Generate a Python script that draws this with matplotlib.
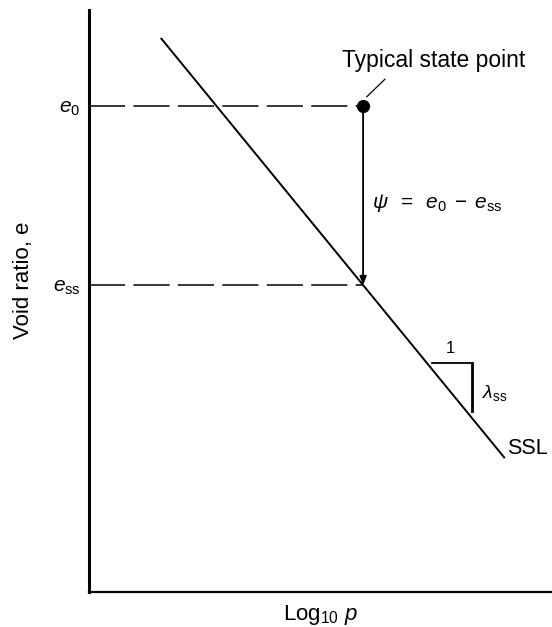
import matplotlib
matplotlib.use('Agg')
import matplotlib.pyplot as plt
import numpy as np

plt.rcParams['font.family'] = ['Liberation Sans', 'DejaVu Sans']
plt.rcParams['mathtext.fontset'] = 'custom'
plt.rcParams['mathtext.rm'] = 'Liberation Sans'
plt.rcParams['mathtext.it'] = 'Liberation Sans:italic'
plt.rcParams['lines.scale_dashes'] = False

# steady state line (log10 p, e), normalised axes
ssl_x = [0.155, 0.898]
ssl_e = [0.952, 0.230]

# typical state point
state_x = 0.592
e0 = 0.835
ess = float(np.interp(state_x, ssl_x, ssl_e))

# slope triangle corners
tri_x = [0.741, 0.827, 0.827]
tri_e = [0.3935, 0.3935, 0.311]

ytick_vals = [ess, e0]
ytick_labels = [r'$e_{\rm ss}$', r'$e_0$']

fig = plt.figure(figsize=(5.52, 6.27), dpi=100)
ax = fig.add_axes([89/552, 35/627, 463/552, 582/627])
ax.set_xlim(0, 1)
ax.set_ylim(0, 1)

for s in ['top', 'right']:
    ax.spines[s].set_visible(False)
ax.spines['left'].set_linewidth(2.2)
ax.spines['bottom'].set_linewidth(1.6)

ax.set_xticks([])
ax.set_yticks(ytick_vals)
ax.set_yticklabels(ytick_labels, fontsize=15)
ax.tick_params(axis='y', length=0, pad=6)

# SSL
ax.plot(ssl_x, ssl_e, color='black', lw=1.4, solid_capstyle='butt')
ax.text(ssl_x[1] + 0.006, ssl_e[1] + 0.017, 'SSL', fontsize=15.5, va='center', ha='left')

# dashed reference lines
for e in [e0, ess]:
    ax.plot([0, state_x], [e, e], color='black', lw=1.1, dashes=(26, 6))

# state point and psi arrow
ax.plot([state_x], [e0], 'o', color='black', ms=8.5, zorder=5)
ax.annotate('', xy=(state_x, ess), xytext=(state_x, e0),
            arrowprops=dict(arrowstyle='-|>,head_length=0.5,head_width=0.2',
                            color='black', lw=1.3, shrinkA=0, shrinkB=0))
ax.text(state_x + 0.019, 0.668, r'$\psi\;\;=\;\;e_0\;-\;e_{\rm ss}$', fontsize=15,
        va='center', ha='left')

# leader to label
ax.plot([0.600, 0.639], [0.851, 0.881], color='black', lw=0.9)
ax.text(0.745, 0.914, 'Typical state point', fontsize=16.5, ha='center', va='center')

# slope triangle
ax.plot(tri_x[:2], tri_e[:2], color='black', lw=1.3)
ax.plot(tri_x[1:], tri_e[1:], color='black', lw=2.0)
ax.text(0.780, 0.418, '1', fontsize=12, ha='center', va='center')
ax.text(0.849, 0.342, r'$\lambda_{\rm ss}$', fontsize=14, ha='left', va='center')

ax.set_xlabel(r'Log$_{10}$ $p$', fontsize=16, labelpad=8)
ax.set_ylabel('Void ratio, e', fontsize=16)
ax.yaxis.set_label_coords(-0.118, 0.535)

fig.savefig('out.png', dpi=100)
